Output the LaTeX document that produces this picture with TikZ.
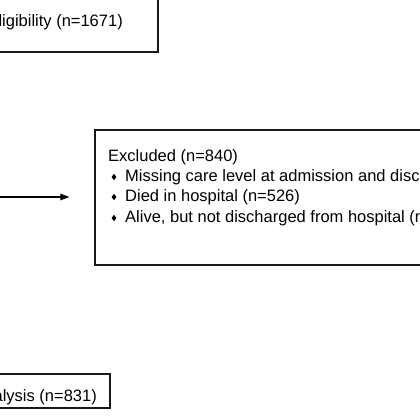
\documentclass[tikz,border=0pt]{standalone}
\usepackage{fontspec}
\setmainfont{Liberation Sans}
\usetikzlibrary{shapes.geometric, arrows.meta}
\begin{document}
\begin{tikzpicture}[
    x=1pt, y=-1pt,
    box/.style={
        rectangle,
        draw=black!90,
        line width=1.1pt,
        inner sep=0pt,
    },
    txt/.style={
        inner sep=0pt,
        text height=12pt,
        text depth=3.5pt,
        font=\fontsize{16.5}{19}\selectfont,
    },
    bullet/.style={
        diamond,
        fill=black,
        inner sep=0pt,
        minimum width=5pt,
        minimum height=6.5pt,
    },
    arrow/.style={
        line width=1.1pt,
        -{Triangle[length=9pt, width=6.5pt]}
    }
]
    \useasboundingbox (0,0) rectangle (420,420);
    \clip (0,0) rectangle (420,420);

    % boxes
    \node[box, minimum width=358pt, minimum height=72pt] (elig) at (-21,16) {};
    \node[box, minimum width=505pt, minimum height=135pt] (excl) at (347.5,197.5) {};
    \node[box, minimum width=310pt, minimum height=34pt] (anal) at (-45,391) {};

    % texts
    \node[txt, anchor=east] (eligtext) at (123,22) {ligibility (n=1671)};
    \node[txt, anchor=east] (analtext) at (97,397) {alysis (n=831)};

    \node[txt, anchor=west] (exhead) at (108,157) {Excluded (n=840)};
    \node[bullet] (b1) at (114,177) {};
    \node[bullet] (b2) at (114,197) {};
    \node[bullet] (b3) at (114,218) {};
    \node[txt, anchor=west] (ex1) at (125,177) {Missing care level at admission and disc};
    \node[txt, anchor=west] (ex2) at (125,197) {Died in hospital (n=526)};
    \node[txt, anchor=west] (ex3) at (125,218) {Alive, but not discharged from hospital (n};

    % arrow
    \coordinate (split) at (-10,197);
    \draw[arrow, shorten >=25pt] (split) -- (split -| excl.west);
\end{tikzpicture}
\end{document}
